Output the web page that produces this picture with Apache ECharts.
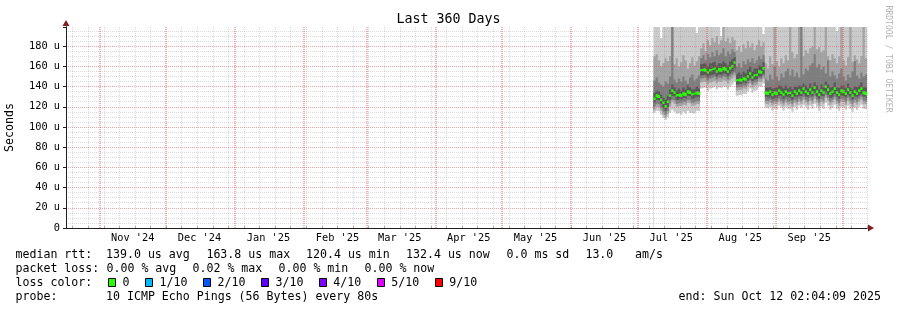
<!DOCTYPE html>
<html><head><meta charset="utf-8">
<script src="https://cdn.jsdelivr.net/npm/echarts@6/dist/echarts.min.js"></script>
<style>html,body{margin:0;padding:0;background:#fff}#c{width:897px;height:310px}</style>
</head><body><div id="c"></div>
<script>
// ---- axis definition ----
const AXIS_START = [2024, 9, 17];   // first day of the 360-day window (UTC y,m0,d)
const AXIS_DAYS = 360;
const DATA_START = '2025-07-08';    // first day with measurements
const MONTH_NAMES = ['Jan','Feb','Mar','Apr','May','Jun','Jul','Aug','Sep','Oct','Nov','Dec'];
const Y_MIN = 0, Y_MAX = 199, Y_MINOR = 5, Y_MAJOR = 20;

// ---- data (microseconds), one value per day from DATA_START to 2025-10-12 ----
const median = [
 128,131,130,127,124,120.4,125,131,136,134,131,132,131,133,132,135,134,132,133,134,133,
 156,157,156,154,156,157,158,155,157,156,158,157,155,158,160,163.8,
 146,147,146,148,147,150,153,149,151,152,155,154,158,
 134,133,135,132,134,133,136,134,132,135,133,134,131,135,133,136,134,138,135,133,
 137,134,139,135,132,136,134,140,137,133,135,138,134,132,136,135,133,137,134,131,
 135,133,136,138,134,133,132.4
];
const smokeMax = [
 205,205,205,188,205,205,205,205,205,205,205,205,205,205,205,205,205,205,205,193,205,
 205,205,205,205,205,205,205,205,205,190,205,205,205,205,205,205,
 205,205,205,205,205,205,205,205,205,205,205,205,192,
 205,205,205,205,205,205,205,205,205,205,205,205,205,205,205,205,187,205,205,205,
 205,205,205,205,205,205,205,205,205,205,205,205,195,205,205,205,205,205,205,205,
 205,205,205,205,205,205,205
];
const smoke9 = [
 170,172,166,160,163,168,165,170,205,162,168,160,164,171,166,158,163,169,161,165,170,
 178,183,175,186,181,188,184,190,182,186,205,185,188,183,189,186,
 176,180,174,182,178,185,179,183,176,181,186,180,184,
 163,158,170,162,205,165,160,168,163,171,166,205,174,168,172,205,205,170,176,173,
 178,180,205,177,179,174,176,205,170,166,172,168,163,170,205,166,161,169,205,164,
 171,167,163,170,205,168,164
];
const smoke8 = [
 146,149,144,142,140,145,143,150,205,147,144,148,145,150,146,143,149,152,146,148,151,
 168,171,166,172,169,174,170,176,171,173,178,170,175,172,177,174,
 160,163,159,165,162,167,164,168,163,166,170,167,171,
 148,146,152,147,160,150,146,153,149,155,158,151,157,150,154,149,205,152,158,156,
 161,163,172,159,162,157,160,153,166,150,155,151,148,153,158,150,146,152,149,155,
 165,151,148,154,150,152,149
];
const smoke7 = [
 134,136,135,132,129,127,131,137,142,139,136,138,136,139,137,141,139,137,138,140,138,
 162,163,162,160,163,164,165,161,163,162,165,163,161,165,167,169,
 152,154,152,155,153,157,160,155,158,158,161,160,164,
 139,139,140,138,139,139,141,140,138,141,138,140,137,140,139,141,140,143,141,138,
 143,139,144,141,137,142,139,145,142,139,140,144,139,138,141,141,138,143,139,137,
 140,139,141,144,139,139,138
];
const smoke4 = [
 124,127,126,123,119,116,120,127,131,130,127,128,127,129,128,131,130,128,129,130,129,
 151,152,151,149,151,152,153,150,152,151,153,152,150,153,155,158,
 142,143,142,144,143,146,148,145,147,148,150,150,153,
 130,129,130,128,129,129,131,130,128,130,129,129,127,130,129,131,130,133,130,129,
 132,130,134,130,128,131,130,135,132,129,130,133,130,128,131,130,129,132,130,127,
 130,129,131,133,130,129,128
];
const smoke3 = [
 120,123,122,119,115,112,116,123,127,126,123,124,123,125,124,127,126,124,125,126,125,
 148,149,148,146,148,149,150,147,149,148,150,149,147,150,152,154,
 139,140,139,141,140,143,146,142,144,145,148,147,151,
 126,125,127,124,126,125,128,126,124,127,125,126,123,127,125,128,126,130,127,125,
 129,126,131,127,124,128,126,132,129,125,127,130,126,124,128,127,125,129,126,123,
 127,125,128,130,126,125,124
];
const smoke2 = [
 117,120,119,116,112,109,113,120,125,123,120,121,120,122,121,124,123,121,122,123,122,
 144,145,144,142,144,145,146,143,145,144,146,145,143,146,148,151,
 136,137,136,138,137,140,143,139,141,142,145,144,148,
 123,122,124,121,123,122,125,123,121,124,122,123,120,124,122,125,123,127,124,122,
 126,123,128,124,121,125,123,129,126,122,124,127,123,121,125,124,122,126,123,120,
 124,122,125,127,123,122,121
];
const smokeMin = [
 114,116,115,112,109,107,110,114,117,115,113,114,112,115,113,116,114,113,114,116,115,
 138,139,138,136,138,139,140,137,139,138,140,139,137,140,142,145,
 131,132,131,133,132,135,138,134,136,137,140,139,143,
 119,118,120,116,118,117,121,119,116,120,118,118,115,120,117,121,119,122,120,117,
 121,118,123,120,116,120,118,124,121,117,119,122,118,116,120,119,117,121,118,115,
 119,117,120,122,118,117,116
];

// ---- legend texts ----
const legendTexts = [
 [15.5, 254.5, 'median rtt:'], [106, 254.5, '139.0 us avg'], [206.4, 254.5, '163.8 us max'],
 [306, 254.5, '120.4 us min'], [406, 254.5, '132.4 us now'], [506.5, 254.5, '0.0 ms sd'],
 [585.4, 254.5, '13.0'], [635, 254.5, 'am/s'],
 [15.5, 268.5, 'packet loss:'], [106.5, 268.5, '0.00 % avg'], [192.5, 268.5, '0.02 % max'],
 [278.5, 268.5, '0.00 % min'], [364.5, 268.5, '0.00 % now'],
 [15.5, 282.5, 'loss color:'],
 [15.5, 296.5, 'probe:'], [106, 296.5, '10 ICMP Echo Pings (56 Bytes) every 80s']
];
const lossLabels = ['0', '1/10', '2/10', '3/10', '4/10', '5/10', '9/10'];
const lossColors = ['#26ff00', '#00b8ff', '#0059ff', '#5e00ff', '#7e00ff', '#dd00ff', '#ff0000'];
const lossLabelX = [122.5, 159.5, 217.5, 275.5, 333.2, 391.2, 449.2];
const endText = 'end: Sun Oct 12 02:04:09 2025';

// ---- build ----
const DAY = 86400000;
const t0 = Date.UTC(AXIS_START[0], AXIS_START[1], AXIS_START[2]);
const cats = [];
for (let i = 0; i <= AXIS_DAYS; i++) cats.push(new Date(t0 + i * DAY).toISOString().slice(0, 10));
const off = cats.indexOf(DATA_START);
function full(arr) {
  const a = new Array(cats.length).fill(null);
  arr.forEach((v, i) => { a[off + i] = v; });
  return a;
}
const dayOf = s => +String(s).slice(8, 10);
const dowOf = s => new Date(String(s) + 'T00:00:00Z').getUTCDay();
const monthDays = cats.filter(d => dayOf(d) === 1);
const FONT = '"DejaVu Sans Mono", monospace';
const GRID_MINOR = 'rgba(143,143,143,0.32)';
const GRID_MAJOR = 'rgba(222,79,79,0.5)';

function band(name, arr, color) {
  return {
    name, type: 'line', data: full(arr), step: 'end', showSymbol: false, symbol: 'none',
    lineStyle: { width: 0, opacity: 0 }, areaStyle: { color, opacity: 1, origin: 'start' },
    silent: true, animation: false, connectNulls: false, z: 2
  };
}
const HALF = 1.3;
const series = [
  band('p10', smokeMax, '#cacaca'),
  band('p9', smoke9, '#a4a4a4'),
  band('p8', smoke8, '#7e7e7e'),
  band('p7', smoke7, '#585858'),
  band('p4', smoke4, '#7e7e7e'),
  band('p3', smoke3, '#a4a4a4'),
  band('p2', smoke2, '#cacaca'),
  band('p1', smokeMin, '#ffffff'),
  { name: 'medBase', type: 'line', stack: 'med', step: 'end', symbol: 'none', showSymbol: false,
    data: full(median.map(v => v - HALF)), lineStyle: { width: 0, opacity: 0 }, silent: true, animation: false, z: 2 },
  { name: 'median', type: 'line', stack: 'med', step: 'end', symbol: 'none', showSymbol: false,
    data: full(median.map(() => 2 * HALF)), lineStyle: { width: 0, opacity: 0 },
    areaStyle: { color: '#26ff00', opacity: 1 }, silent: true, animation: false, z: 2 },
  { name: 'months', type: 'line', data: full([]), symbol: 'none', silent: true, animation: false, z: 3,
    lineStyle: { width: 0, opacity: 0 },
    markLine: { silent: true, animation: false, symbol: ['none', 'none'], label: { show: false },
      emphasis: { disabled: true },
      lineStyle: { color: 'rgba(225,70,70,0.42)', width: 2, type: [1, 1] },
      data: monthDays.map(d => ({ xAxis: d })) } }
];

const graphics = [];
legendTexts.forEach(([x, y, t]) => graphics.push({
  type: 'text', x, y, silent: true,
  style: { text: t, fill: '#000', font: '11.6px ' + FONT, align: 'left', verticalAlign: 'middle' }
}));
lossLabels.forEach((t, i) => {
  graphics.push({ type: 'rect', silent: true,
    shape: { x: Math.round(lossLabelX[i] - 14.6) + 0.5, y: 278.5, width: 7, height: 8 },
    style: { fill: lossColors[i], stroke: '#000', lineWidth: 1 } });
  graphics.push({ type: 'text', x: lossLabelX[i], y: 282.5, silent: true,
    style: { text: t, fill: '#000', font: '11.6px ' + FONT, align: 'left', verticalAlign: 'middle' } });
});
graphics.push({ type: 'text', x: 881, y: 296.5, silent: true,
  style: { text: endText, fill: '#000', font: '11.6px ' + FONT, align: 'right', verticalAlign: 'middle' } });
graphics.push({ type: 'text', x: 888, y: 59, rotation: -Math.PI / 2, silent: true,
  style: { text: 'RRDTOOL / TOBI OETIKER', fill: '#b4b4b4', font: '8.1px ' + FONT, align: 'center', verticalAlign: 'middle' } });

const option = {
  backgroundColor: '#ffffff',
  animation: false,
  title: { text: 'Last 360 Days', left: 'center', top: 12, padding: 0,
    textStyle: { fontFamily: FONT, fontSize: 13.3, fontWeight: 'normal', color: '#000', lineHeight: 15 } },
  grid: { left: 66, right: 30, top: 27, bottom: 82, containLabel: false, outerBoundsMode: 'none' },
  xAxis: [
    { type: 'category', data: cats, boundaryGap: false, position: 'bottom', z: 3,
      axisLine: { show: true, onZero: false, symbol: ['none', 'triangle'], symbolSize: [7, 6], symbolOffset: [0, 4],
        lineStyle: { color: '#801f1f', width: 1 } },
      axisTick: { show: true, inside: true, length: 2, interval: (i, v) => dowOf(v) === 0,
        lineStyle: { color: 'rgba(143,143,143,0.7)' } },
      axisLabel: { show: false },
      splitLine: { show: true, interval: (i, v) => dowOf(v) === 0 && dayOf(v) !== 1,
        lineStyle: { color: GRID_MINOR, width: 1, type: [1, 1] } } },
    { type: 'category', data: cats, boundaryGap: false, position: 'bottom', z: 4,
      axisLine: { show: true, onZero: false, lineStyle: { color: '#1f1f1f', width: 1 } },
      axisTick: { show: false },
      axisLabel: { show: true, interval: (i, v) => dayOf(v) === 16, hideOverlap: false,
        formatter: v => MONTH_NAMES[+v.slice(5, 7) - 1] + " '" + v.slice(2, 4),
        color: '#000', fontFamily: FONT, fontSize: 10.3, margin: 5 },
      splitLine: { show: false } }
  ],
  yAxis: [
    { type: 'value', min: Y_MIN, max: Y_MAX, interval: Y_MINOR, position: 'left', z: 3,
      axisLine: { show: true, onZero: false, symbol: ['none', 'triangle'], symbolSize: [7, 6], symbolOffset: [0, 4],
        lineStyle: { color: '#801f1f', width: 1 } },
      axisTick: { show: false }, axisLabel: { show: false },
      splitLine: { show: true, showMaxLine: false,
        lineStyle: { color: ['rgba(0,0,0,0)', GRID_MINOR, GRID_MINOR, GRID_MINOR], width: 1, type: [1, 1] } } },
    { type: 'value', min: Y_MIN, max: Y_MAX, interval: Y_MAJOR, position: 'left', z: 4,
      name: 'Seconds', nameLocation: 'middle', nameGap: 50,
      nameTextStyle: { fontFamily: FONT, fontSize: 11.6, color: '#000' },
      axisLine: { show: true, onZero: false, lineStyle: { color: '#1f1f1f', width: 1 } },
      axisTick: { show: true, length: 3, lineStyle: { color: '#1f1f1f' } },
      axisLabel: { show: true, margin: 6, color: '#000', fontFamily: FONT, fontSize: 10.3,
        formatter: v => (v % Y_MAJOR !== 0) ? '' : (v === 0 ? '0' : v + ' u') },
      splitLine: { show: true, showMinLine: false, showMaxLine: false,
        lineStyle: { color: GRID_MAJOR, width: 1, type: [1, 1] } } }
  ],
  series,
  graphic: graphics
};
const chart = echarts.init(document.getElementById('c'), null, { renderer: 'canvas' });
chart.setOption(option);
</script>
</body></html>
